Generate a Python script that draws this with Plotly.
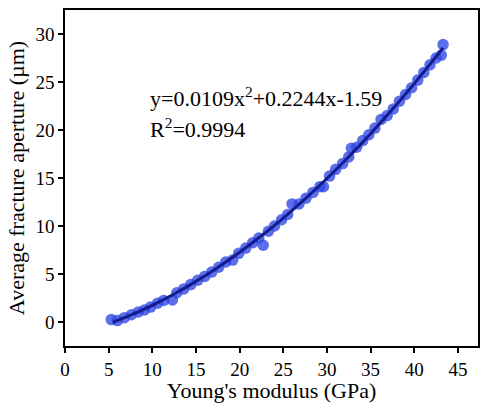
import plotly.graph_objects as go

# Measured data points (Young's modulus in GPa, average fracture aperture in µm)
modulus = [5.3, 6.0, 6.8, 7.6, 8.4, 9.1, 9.8, 10.6, 11.3, 12.3, 12.8, 13.6, 14.4, 15.2,
           16.0, 16.8, 17.6, 18.4, 19.2, 19.9, 20.7, 21.5, 22.2, 22.7, 23.3, 24.0, 24.8,
           25.5, 26.0, 26.8, 27.6, 28.4, 29.2, 29.6, 30.3, 31.0, 31.8, 32.5, 32.8, 33.4,
           34.1, 34.8, 35.5, 36.2, 36.9, 37.6, 38.3, 39.0, 39.7, 40.4, 41.1, 41.8, 42.5,
           43.1, 43.3]
aperture = [0.25, 0.15, 0.45, 0.75, 1.05, 1.25, 1.55, 1.95, 2.25, 2.30, 3.05, 3.45, 3.90, 4.35,
            4.75, 5.20, 5.70, 6.25, 6.45, 7.15, 7.70, 8.25, 8.75, 8.00, 9.45, 10.0, 10.65,
            11.2, 12.3, 12.3, 12.9, 13.5, 14.1, 14.1, 15.2, 15.9, 16.5, 17.2, 18.1, 18.2,
            18.9, 19.5, 20.2, 21.1, 21.5, 22.2, 23.0, 23.7, 24.4, 25.2, 26.0, 26.8, 27.5,
            27.8, 28.9]

# Fitted curve read at a few x positions
fit_x = [5.5, 7.5, 10, 12.5, 15, 17.5, 20, 22.5, 25, 27.5, 30, 32.5, 35, 37.5, 40, 42.5, 43.3]
fit_y = [-0.03, 0.71, 1.74, 2.92, 4.23, 5.68, 7.26, 8.98, 10.83, 12.82, 14.95, 17.22,
         19.62, 22.15, 24.83, 27.64, 28.56]

x_ticks = [0, 5, 10, 15, 20, 25, 30, 35, 40, 45]
y_ticks = [0, 5, 10, 15, 20, 25, 30]

FONT = "Liberation Serif"

fig = go.Figure()
fig.add_trace(go.Scatter(
    x=modulus, y=aperture, mode="markers",
    marker=dict(size=11.5, color="rgba(45,70,230,0.78)", line=dict(width=0)),
    showlegend=False))
fig.add_trace(go.Scatter(
    x=fit_x, y=fit_y, mode="lines", line=dict(color="#141c8c", width=3, shape="spline"),
    showlegend=False))

fig.add_annotation(x=9.5, y=23.4, xref="x", yref="y", xanchor="left", yanchor="middle",
                   text="y=0.0109x<sup>2</sup>+0.2244x-1.59", showarrow=False,
                   font=dict(family=FONT, size=22, color="black"))
fig.add_annotation(x=9.5, y=20.2, xref="x", yref="y", xanchor="left", yanchor="middle",
                   text="R<sup>2</sup>=0.9994", showarrow=False,
                   font=dict(family=FONT, size=22, color="black"))

axis_common = dict(showgrid=False, zeroline=False, showline=True, linecolor="black",
                   linewidth=1.5, mirror=True, ticks="outside", ticklen=5, tickwidth=1.5,
                   tickcolor="black", tickfont=dict(family=FONT, size=19, color="black"))

fig.update_xaxes(range=[0, 47.3], tickvals=x_ticks,
                 title=dict(text="Young's modulus (GPa)", font=dict(family=FONT, size=22, color="black"), standoff=5),
                 **axis_common)
fig.update_yaxes(range=[-2.5, 32.5], tickvals=y_ticks,
                 title=dict(text="Average fracture aperture (µm)", font=dict(family=FONT, size=22, color="black"), standoff=5),
                 **axis_common)

fig.update_layout(width=481, height=403, margin=dict(l=65, r=1, t=10, b=57),
                  plot_bgcolor="white", paper_bgcolor="white")

fig.write_html("out.html")
